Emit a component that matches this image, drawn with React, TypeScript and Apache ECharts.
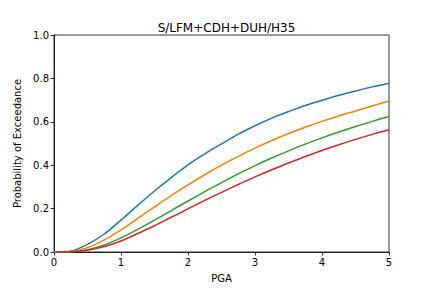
import React, { useEffect, useRef } from "react";
import * as echarts from "echarts";

const pga = [0, 0.25, 0.5, 0.75, 1, 1.25, 1.5, 1.75, 2, 2.25, 2.5, 2.75, 3, 3.25, 3.5, 3.75, 4, 4.25, 4.5, 4.75, 5];
const blue = [0, 0.004, 0.035, 0.083, 0.147, 0.215, 0.281, 0.343, 0.402, 0.452, 0.498, 0.543, 0.582, 0.617, 0.647, 0.675, 0.699, 0.722, 0.742, 0.761, 0.778];
const orange = [0, 0.002, 0.02, 0.056, 0.102, 0.155, 0.208, 0.26, 0.309, 0.356, 0.4, 0.441, 0.479, 0.514, 0.546, 0.575, 0.602, 0.627, 0.65, 0.673, 0.696];
const green = [0, 0.001, 0.01, 0.032, 0.065, 0.104, 0.147, 0.191, 0.235, 0.278, 0.32, 0.36, 0.398, 0.433, 0.466, 0.497, 0.526, 0.553, 0.578, 0.602, 0.624];
const red = [0, 0.001, 0.008, 0.025, 0.051, 0.085, 0.121, 0.16, 0.199, 0.238, 0.275, 0.311, 0.346, 0.379, 0.41, 0.44, 0.468, 0.494, 0.519, 0.542, 0.563];
const seriesList = [blue, orange, green, red];
const colors = ["#1f77b4", "#ff7f0e", "#2ca02c", "#d62728"];
const titleText = "S/LFM+CDH+DUH/H35";
const xName = "PGA";
const yName = "Probability of Exceedance";

const font = "DejaVu Sans";

export default function App() {
  const ref = useRef<HTMLDivElement>(null);
  useEffect(() => {
    if (!ref.current) return;
    const chart = echarts.init(ref.current, null, { renderer: "svg" });
    chart.setOption({
      animation: false,
      backgroundColor: "#ffffff",
      title: {
        text: titleText,
        left: 221.5,
        top: 17,
        textAlign: "center",
        textStyle: { fontFamily: font, fontSize: 12, fontWeight: "normal", color: "#000" },
      },
      grid: {
        left: 54,
        right: 43,
        top: 35,
        bottom: 36,
        show: true,
        borderColor: "#000",
        borderWidth: 0.8,
        backgroundColor: "transparent",
      },
      xAxis: {
        type: "value",
        min: 0,
        max: 5,
        interval: 1,
        name: xName,
        nameLocation: "middle",
        nameGap: 21,
        nameTextStyle: { fontFamily: font, fontSize: 10, color: "#000" },
        axisLine: { show: true, lineStyle: { color: "#000", width: 0.8 } },
        axisTick: { show: true, length: 3.5, inside: false, lineStyle: { color: "#000", width: 0.8 } },
        axisLabel: { fontFamily: font, fontSize: 10, color: "#000", margin: 5 },
        splitLine: { show: false },
      },
      yAxis: {
        type: "value",
        min: 0,
        max: 1,
        interval: 0.2,
        name: yName,
        nameLocation: "middle",
        nameGap: 29,
        nameRotate: 90,
        nameTextStyle: { fontFamily: font, fontSize: 10, color: "#000" },
        axisLine: { show: true, lineStyle: { color: "#000", width: 0.8 } },
        axisTick: { show: true, length: 3.5, inside: false, lineStyle: { color: "#000", width: 0.8 } },
        axisLabel: {
          fontFamily: font,
          fontSize: 10,
          color: "#000",
          margin: 5,
          formatter: (v: number) => v.toFixed(1),
        },
        splitLine: { show: false },
      },
      series: seriesList.map((vals, i) => ({
        type: "line",
        data: pga.map((x, j) => [x, vals[j]]),
        smooth: 0.3,
        showSymbol: false,
        lineStyle: { color: colors[i], width: 1.5 },
        itemStyle: { color: colors[i] },
        z: 2 + i,
      })),
    });
    return () => chart.dispose();
  }, []);
  return (
    <div
      ref={ref}
      style={{ position: "fixed", left: 0, top: 0, width: 432, height: 288 }}
    />
  );
}
